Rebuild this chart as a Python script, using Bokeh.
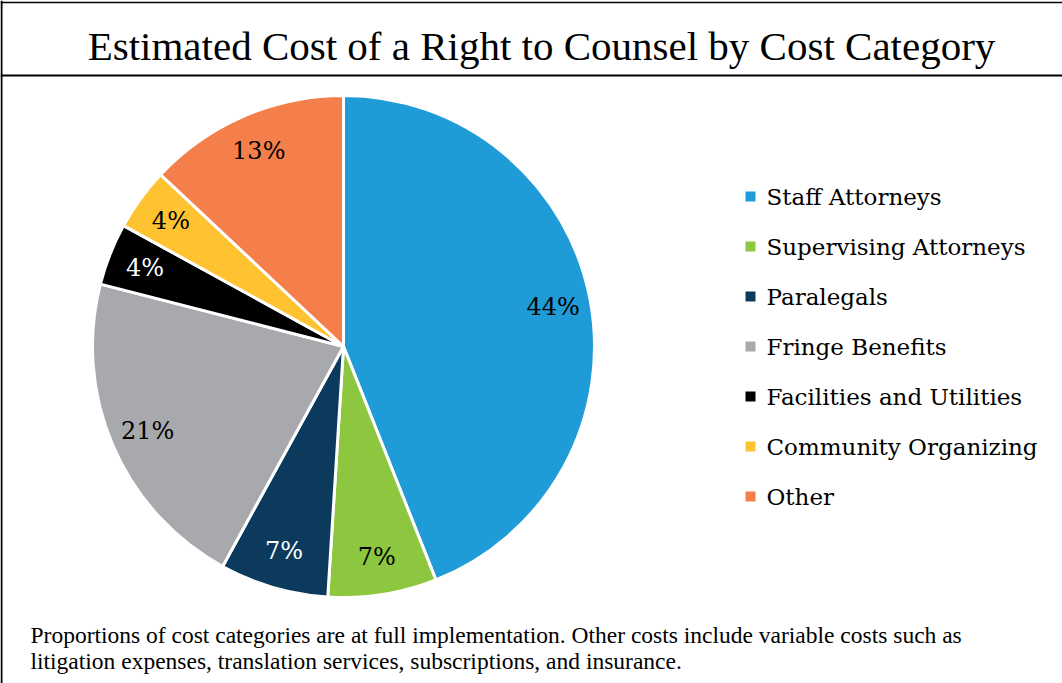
import numpy as np
from bokeh.plotting import figure
from bokeh.models import Range1d, ColumnDataSource, GlobalInlineStyleSheet
from bokeh.core.properties import value
from bokeh.embed import file_html
from bokeh.resources import INLINE

title = "Estimated Cost of a Right to Counsel by Cost Category"
categories = ["Staff Attorneys", "Supervising Attorneys", "Paralegals", "Fringe Benefits",
              "Facilities and Utilities", "Community Organizing", "Other"]
shares = [44, 7, 7, 21, 4, 4, 13]
colors = ["#1F9BD7", "#8DC63F", "#0B3A5C", "#A7A9AC", "#000000", "#FFC332", "#F47F4A"]
label_colors = ["#000000", "#000000", "#FFFFFF", "#000000", "#FFFFFF", "#000000", "#000000"]
footnote = ["Proportions of cost categories are at full implementation. Other costs include variable costs such as",
            "litigation expenses, translation services, subscriptions, and insurance."]

W, H = 1062, 683
p = figure(width=W, height=H, output_backend="svg", toolbar_location=None,
           x_range=Range1d(0, W), y_range=Range1d(0, H), min_border=0)
p.axis.visible = False
p.grid.visible = False
p.outline_line_color = None
p.stylesheets = [GlobalInlineStyleSheet(css="body { margin: 0; }")]

def Y(y):
    return H - y

# frame
p.segment(x0=[0, 0, 1], y0=[Y(2), Y(75), Y(0)], x1=[W, W, 1], y1=[Y(2), Y(75), Y(H)],
          line_color="#000000", line_width=[1.5, 2, 2])

# title
p.text(x=[541], y=[Y(45)], text=[title], text_font=value("Liberation Serif"),
       text_font_size="41px", text_align="center", text_baseline="middle", text_color="#000000")

# pie
cx, cy, R = 343, Y(346), 251
frac = np.array(shares, dtype=float) / sum(shares)
cum = np.concatenate([[0], np.cumsum(frac)])
start = np.pi / 2 - 2 * np.pi * cum[:-1]
end = np.pi / 2 - 2 * np.pi * cum[1:]
src = ColumnDataSource(dict(start=start, end=end, color=colors))
p.wedge(x=cx, y=cy, radius=R, start_angle="start", end_angle="end", direction="clock",
        fill_color="color", line_color="#FFFFFF", line_width=3, source=src)

mid = (start + end) / 2
lr = 0.85 * R
p.text(x=cx + lr * np.cos(mid), y=cy + lr * np.sin(mid), text=[f"{s}%" for s in shares],
       text_color=label_colors, text_font=value("DejaVu Serif"), text_font_size="24px",
       text_align="center", text_baseline="middle")

# legend
rows = [Y(196 + 50 * i) for i in range(len(categories))]
p.scatter(x=[750] * len(categories), y=rows, marker="square", size=10, fill_color=colors, line_color=None)
p.text(x=[766] * len(categories), y=rows, text=categories, text_font=value("DejaVu Serif"),
       text_font_size="23px", text_align="left", text_baseline="middle", text_color="#000000")

# footnote
p.text(x=[30, 30], y=[Y(634), Y(660)], text=footnote, text_font=value("Liberation Serif"),
       text_font_size="23.5px", text_align="left", text_baseline="middle", text_color="#000000")

open("out.html", "w").write(file_html(p, INLINE))
